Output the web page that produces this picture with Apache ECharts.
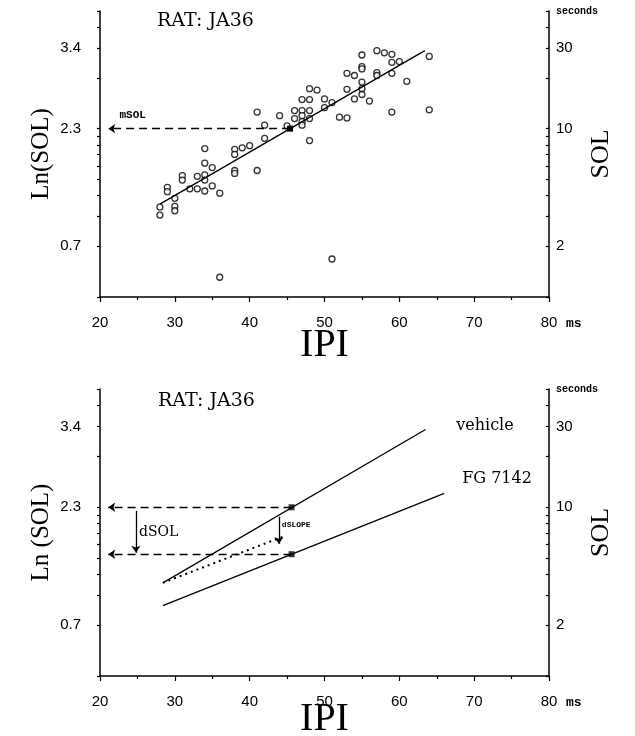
<!DOCTYPE html>
<html>
<head>
<meta charset="utf-8">
<script src="https://cdn.jsdelivr.net/npm/echarts@6/dist/echarts.min.js"></script>
<style>
html,body{margin:0;padding:0;background:#fff;}
#chart{width:635px;height:736px;}
</style>
</head>
<body>
<div id="chart"></div>
<script>
// ---------- data ----------
const titleText = 'RAT: JA36';
// top panel: individual observations (IPI in ms, Ln(SOL))
const scatterIPI = [28,28,29,29,30,30,30,31,31,32,33,33,34,34,34,34,34,35,35,36,36,38,38,38,38,39,40,41,41,42,42,44,45,46,46,47,47,47,47,47,48,48,48,48,48,49,50,50,51,51,52,53,53,53,54,54,55,55,55,55,55,55,56,57,57,57,58,59,59,59,59,60,61,64,64];
const scatterLnSOL = [1.23,1.12,1.50,1.44,1.35,1.24,1.18,1.66,1.60,1.48,1.65,1.48,2.03,1.83,1.67,1.60,1.45,1.77,1.52,1.42,0.27,2.02,1.95,1.73,1.69,2.04,2.07,2.53,1.73,2.35,2.17,2.48,2.34,2.55,2.44,2.70,2.55,2.48,2.40,2.35,2.85,2.70,2.55,2.44,2.14,2.83,2.71,2.59,2.66,0.52,2.46,3.06,2.84,2.45,3.03,2.71,3.31,3.15,3.12,2.94,2.85,2.77,2.68,3.37,3.07,3.03,3.34,3.32,3.21,3.06,2.53,3.22,2.95,3.29,2.56];
// regression line (IPI, Ln(SOL))
const fitIPI = [28, 63.4];
const fitLnSOL = [1.27, 3.37];
const mSOLPoint = [45.4, 2.303];
// bottom panel lines
const vehicleIPI = [28.4, 63.5];
const vehicleLnSOL = [1.27, 3.36];
const fgIPI = [28.4, 66];
const fgLnSOL = [0.96, 2.49];
const slopeIPI = [28.4, 44.7];
const slopeLnSOL = [1.27, 1.91];
const refIPI = 45.6;
const refLnSOL = [2.30, 1.66];
// axis ticks / labels
const xMin = 20, xMax = 80, xStep = 10;
const secondsTicks = [1,2,3,4,5,6,7,8,9,10,20,30,40,50];
const secondsLabels = [2, 10, 30];

// ---------- helpers ----------
const LN_MAX = Math.log(50);
const lnTicks = secondsTicks.map(Math.log);
const lnLabelPos = secondsLabels.map(Math.log);
const BLACK = '#000';
const SERIF = 'Liberation Serif';
const DSERIF = 'DejaVu Serif';
const SANS = 'Liberation Sans';
const MONO = 'Liberation Mono';
const pair = (xs, ys) => xs.map((x, i) => [x, ys[i]]);

function xMain(g, nameGap) {
  return {
    gridIndex: g, type: 'value', min: xMin, max: xMax, interval: xStep, position: 'bottom',
    axisLine: { show: true, onZero: false, lineStyle: { color: BLACK, width: 1.5 } },
    axisTick: { show: true, length: 5, lineStyle: { color: BLACK, width: 1.2 } },
    minorTick: { show: true, splitNumber: 2, length: 3, lineStyle: { color: BLACK, width: 1.2 } },
    axisLabel: { color: BLACK, fontSize: 15, margin: 18, fontFamily: SANS },
    splitLine: { show: false }, minorSplitLine: { show: false },
    name: 'IPI', nameLocation: 'middle', nameGap: nameGap, nameMoveOverlap: false,
    nameTextStyle: { fontFamily: SERIF, fontSize: 40, color: BLACK }
  };
}
function xMs(g) {
  return {
    gridIndex: g, type: 'value', min: xMin, max: xMax, position: 'bottom',
    axisLine: { show: false }, axisTick: { show: false }, axisLabel: { show: false }, splitLine: { show: false },
    name: 'ms', nameLocation: 'end', nameGap: 17, nameMoveOverlap: false,
    nameTextStyle: { fontFamily: MONO, fontWeight: 'bold', fontSize: 13, color: BLACK, verticalAlign: 'top', padding: [20, 0, 0, 0] }
  };
}
function yLeft(g, name) {
  return {
    gridIndex: g, type: 'value', min: 0, max: LN_MAX, position: 'left',
    axisLine: { show: true, onZero: false, lineStyle: { color: BLACK, width: 1.5 } },
    axisTick: { show: true, customValues: lnTicks, length: 3, lineStyle: { color: BLACK, width: 1.2 } },
    axisLabel: { customValues: lnLabelPos, formatter: v => v.toFixed(1), color: BLACK, fontSize: 15, margin: 19, fontFamily: SANS },
    splitLine: { show: false },
    name: name, nameLocation: 'middle', nameGap: 46, nameMoveOverlap: false,
    nameTextStyle: { fontFamily: SERIF, fontSize: 25, color: BLACK }
  };
}
function yRight(g) {
  return {
    gridIndex: g, type: 'value', min: 0, max: LN_MAX, position: 'right',
    axisLine: { show: true, onZero: false, lineStyle: { color: BLACK, width: 1.5 } },
    axisTick: { show: true, customValues: lnTicks, length: 3, inside: true, lineStyle: { color: BLACK, width: 1.2 } },
    axisLabel: { customValues: lnLabelPos, formatter: v => String(Math.round(Math.exp(v))), color: BLACK, fontSize: 15, margin: 7, fontFamily: SANS },
    splitLine: { show: false },
    name: 'SOL', nameLocation: 'middle', nameGap: 39, nameMoveOverlap: false,
    nameTextStyle: { fontFamily: SERIF, fontSize: 26, color: BLACK }
  };
}
function ySeconds(g) {
  return {
    gridIndex: g, type: 'value', min: 0, max: LN_MAX, position: 'right',
    axisLine: { show: false }, axisTick: { show: false }, axisLabel: { show: false }, splitLine: { show: false },
    name: 'seconds', nameLocation: 'end', nameGap: 0, nameMoveOverlap: false,
    nameTextStyle: { fontFamily: MONO, fontWeight: 'bold', fontSize: 10, color: BLACK, align: 'left', verticalAlign: 'middle', padding: [0, 0, 0, 7] }
  };
}
function note(coord, text, font, size, weight) {
  return {
    coord: coord, symbol: 'circle', symbolSize: 0, itemStyle: { color: 'rgba(0,0,0,0)' },
    label: { show: true, formatter: text, position: 'right', distance: 0, color: BLACK, fontFamily: font, fontSize: size, fontWeight: weight || 'normal' }
  };
}
function arrow(from, to, dashed) {
  return [{ coord: from, lineStyle: { type: dashed ? [8, 5] : 'solid', color: BLACK, width: 1.3 } }, { coord: to }];
}

const option = {
  animation: false,
  backgroundColor: '#fff',
  title: [
    { text: titleText, left: 157, top: 12, padding: 0, textStyle: { fontFamily: DSERIF, fontSize: 19, fontWeight: 'normal', color: BLACK } },
    { text: titleText, left: 158, top: 392, padding: 0, textStyle: { fontFamily: DSERIF, fontSize: 19, fontWeight: 'normal', color: BLACK } }
  ],
  grid: [
    { left: 100, right: 86, top: 11, height: 286, outerBoundsMode: 'none' },
    { left: 100, right: 86, top: 389, height: 287, outerBoundsMode: 'none' }
  ],
  xAxis: [xMain(0, 28), xMs(0), xMain(1, 23), xMs(1)],
  yAxis: [yLeft(0, 'Ln(SOL)'), yRight(0), ySeconds(0), yLeft(1, 'Ln (SOL)'), yRight(1), ySeconds(1)],
  series: [
    {
      type: 'scatter', xAxisIndex: 0, yAxisIndex: 0,
      data: pair(scatterIPI, scatterLnSOL),
      symbol: 'circle', symbolSize: 6,
      itemStyle: { color: '#fff', borderColor: BLACK, borderWidth: 1.3 },
      z: 3
    },
    {
      type: 'line', xAxisIndex: 0, yAxisIndex: 0,
      data: pair(fitIPI, fitLnSOL),
      symbol: 'none', lineStyle: { color: BLACK, width: 1.3 },
      markLine: {
        silent: true, symbol: ['none', 'arrow'], symbolSize: 7, label: { show: false },
        data: [arrow(mSOLPoint, [21.1, mSOLPoint[1]], true)]
      },
      markPoint: {
        silent: true,
        data: [
          note([22.6, 2.48], 'mSOL', MONO, 11, 'bold'),
          { coord: mSOLPoint, symbol: 'rect', symbolSize: 6, itemStyle: { color: BLACK }, label: { show: false } }
        ]
      },
      z: 4
    },
    {
      type: 'line', name: 'vehicle', xAxisIndex: 2, yAxisIndex: 3,
      data: pair(vehicleIPI, vehicleLnSOL),
      symbol: 'none', lineStyle: { color: BLACK, width: 1.3 },
      markPoint: {
        silent: true,
        data: [
          note([67.6, 3.41], 'vehicle', DSERIF, 16),
          note([25.2, 1.955], 'dSOL', DSERIF, 14),
          note([44.3, 2.06], 'dSLOPE', MONO, 8, 'bold')
        ]
      }
    },
    {
      type: 'line', name: 'FG 7142', xAxisIndex: 2, yAxisIndex: 3,
      data: pair(fgIPI, fgLnSOL),
      symbol: 'none', lineStyle: { color: BLACK, width: 1.3 },
      markPoint: {
        silent: true,
        data: [note([68.4, 2.69], 'FG 7142', DSERIF, 16)]
      }
    },
    {
      type: 'line', xAxisIndex: 2, yAxisIndex: 3,
      data: pair(slopeIPI, slopeLnSOL),
      symbol: 'none', lineStyle: { color: BLACK, width: 2, type: [2, 4] },
      markLine: {
        silent: true, symbol: ['none', 'arrow'], symbolSize: 7, label: { show: false },
        data: [
          arrow([refIPI, refLnSOL[0]], [21.1, refLnSOL[0]], true),
          arrow([refIPI, refLnSOL[1]], [21.1, refLnSOL[1]], true),
          arrow([24.8, 2.25], [24.8, 1.68], false),
          arrow([43.9, 2.17], [43.9, 1.80], false)
        ]
      }
    },
    {
      type: 'scatter', xAxisIndex: 2, yAxisIndex: 3,
      data: refLnSOL.map(v => [refIPI, v]),
      symbol: 'rect', symbolSize: 6, itemStyle: { color: BLACK }, z: 5
    }
  ]
};

const chart = echarts.init(document.getElementById('chart'), null, { renderer: 'canvas' });
chart.setOption(option);
</script>
</body>
</html>
